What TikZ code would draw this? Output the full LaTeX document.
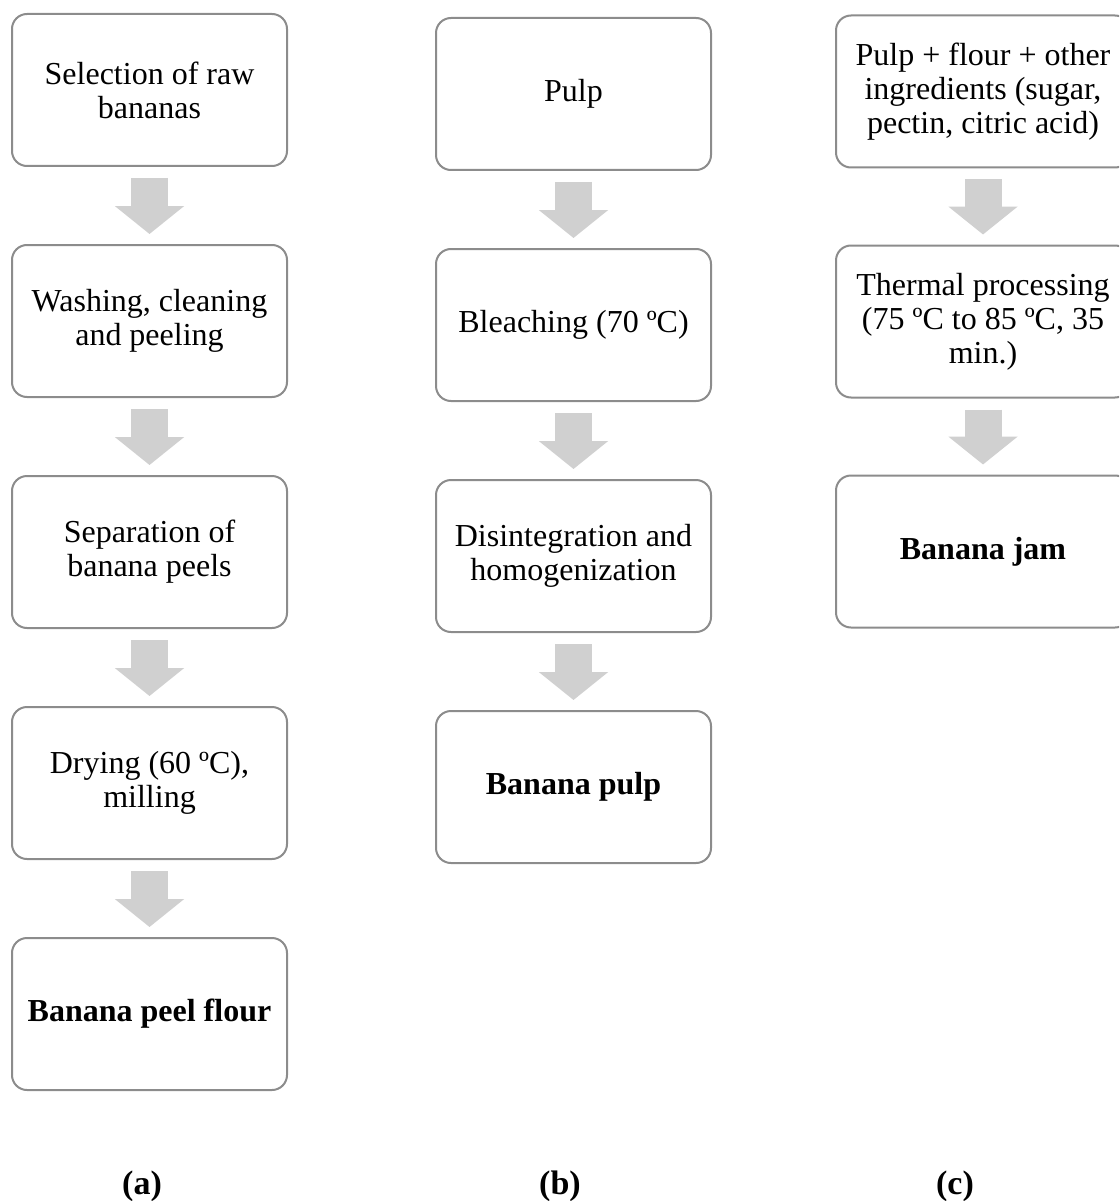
\documentclass[tikz,border=0pt]{standalone}
\usepackage{fontspec}
\setmainfont{Liberation Serif}
\usepackage{tikz}
\usetikzlibrary{positioning, arrows.meta}
\usepackage{xcolor}
\definecolor{boxgray}{RGB}{140,140,140}
\definecolor{flowgray}{RGB}{208,208,208}

\tikzset{
  stepbox/.style={draw=boxgray, line width=2pt, rounded corners=15pt, fill=white,
    minimum width=275pt, minimum height=152pt, align=center,
    font=\fontsize{32}{34}\selectfont},
  widebox/.style={stepbox, minimum width=294pt},
  flow/.style={flowgray, line width=37pt, -{Triangle[width=68pt, length=28pt]}},
  caption/.style={font=\fontsize{34}{36}\selectfont\bfseries}
}

\begin{document}
\begin{tikzpicture}[x=1pt, y=-1pt, node distance=77pt]
\useasboundingbox (0,0) rectangle (1119,1201);
\clip (0,0) rectangle (1119,1201);

% column (a): peel flour
\node[stepbox] (a1) at (149.5,90) {Selection of raw\\bananas};
\node[stepbox, below=of a1] (a2) {Washing, cleaning\\and peeling};
\node[stepbox, below=of a2] (a3) {Separation of\\banana peels};
\node[stepbox, below=of a3] (a4) {Drying (60 ºC),\\milling};
\node[stepbox, below=of a4] (a5) {\textbf{Banana peel flour}};

% column (b): pulp
\node[stepbox] (b1) at (573.5,94) {Pulp};
\node[stepbox, below=of b1] (b2) {Bleaching (70 ºC)};
\node[stepbox, below=of b2] (b3) {Disintegration and\\homogenization};
\node[stepbox, below=of b3] (b4) {\textbf{Banana pulp}};

% column (c): jam
\node[widebox] (c1) at (983,91.5) {Pulp + flour + other\\ingredients (sugar,\\pectin, citric acid)};
\node[widebox, below=76pt of c1] (c2) {Thermal processing\\(75 ºC to 85 ºC, 35\\min.)};
\node[widebox, below=76pt of c2] (c3) {\textbf{Banana jam}};

% arrows
\foreach \u/\v in {a1/a2, a2/a3, a3/a4, a4/a5, b1/b2, b2/b3, b3/b4, c1/c2, c2/c3}
  \draw[flow] ([yshift=-11pt]\u.south) -- ([yshift=10pt]\v.north);

% captions
\node[caption] (capa) at (142,1186) {(a)};
\node[caption] (capb) at (560,1186) {(b)};
\node[caption] (capc) at (955,1186) {(c)};
\end{tikzpicture}
\end{document}
